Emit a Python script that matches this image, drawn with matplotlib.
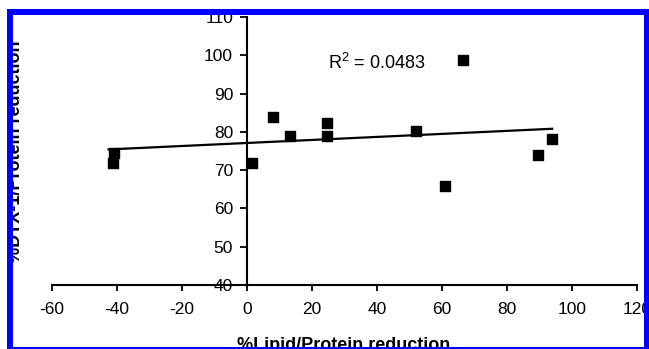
import matplotlib
matplotlib.use("Agg")
import matplotlib.pyplot as plt
from matplotlib.patches import Rectangle
import numpy as np

plt.rcParams['font.family'] = ['Liberation Sans', 'DejaVu Sans']
plt.rcParams['mathtext.fontset'] = 'custom'
plt.rcParams['mathtext.rm'] = 'Liberation Sans'
plt.rcParams['mathtext.it'] = 'Liberation Sans'
plt.rcParams['axes.unicode_minus'] = False

# data
lipid_reduction = [-40.8, -41.1, 1.4, 8.1, 13.2, 24.5, 24.5, 52.0, 61.0, 66.4, 89.6, 93.9]
dtx_reduction = [74.6, 71.9, 71.9, 83.8, 78.8, 82.3, 79.0, 80.1, 65.9, 98.7, 74.0, 78.1]
r2_label = "R$^{2}$ = 0.0483"
x_ticks = [-60, -40, -20, 0, 20, 40, 60, 80, 100, 120]
y_ticks = [40, 50, 60, 70, 80, 90, 100, 110]
x_title = "%Lipid/Protein reduction"
y_title = "%DTX-1/Protein reduction"

W, H = 649, 349
fig = plt.figure(figsize=(W / 100, H / 100), dpi=100)
fig.patch.set_facecolor('white')

ax = fig.add_axes([52 / W, (H - 285) / H, (637 - 52) / W, (285 - 17) / H])
ax.set_xlim(-60, 120)
ax.set_ylim(40, 110)
ax.patch.set_alpha(0)

for s in ['top', 'right']:
    ax.spines[s].set_visible(False)
ax.spines['left'].set_position(('data', 0))
ax.spines['left'].set_linewidth(1.5)
ax.spines['bottom'].set_linewidth(1.5)

ax.set_xticks(x_ticks)
ax.set_yticks(y_ticks)
ax.tick_params(axis='x', direction='out', length=4.5, width=1.3, pad=8, labelsize=12.5)
ax.tick_params(axis='y', direction='out', length=5, width=1.3, pad=5, labelsize=12.5)
for lab in ax.get_yticklabels() + ax.get_xticklabels():
    lab.set_clip_on(False)

xs = np.array(lipid_reduction)
ys = np.array(dtx_reduction)
ax.scatter(xs, ys, marker='s', s=52, color='black', zorder=3, clip_on=False)

coef = np.polyfit(xs, ys, 1)
xl = np.array([xs.min() - 1.5, xs.max()])
ax.plot(xl, np.polyval(coef, xl), color='black', lw=1.6, zorder=2)

ax.text(24.9, 96.3, r2_label, fontsize=13, ha='left', va='baseline')

fig.text(344 / W, 1 - 337 / H, x_title, fontsize=13, fontweight='bold',
         ha='center', va='top')
fig.text(24 / W, 1 - 152 / H, y_title, fontsize=13, fontweight='bold',
         rotation=90, ha='right', va='center')

blue = '#0000ff'
def rect_px(x0, y0, x1, y1):
    fig.patches.append(Rectangle((x0 / W, 1 - y1 / H), (x1 - x0) / W, (y1 - y0) / H,
                                 transform=fig.transFigure, facecolor=blue,
                                 edgecolor='none', zorder=10))
rect_px(7, 9, 13, 349)     # left
rect_px(7, 9, 649, 15)     # top
rect_px(644, 9, 649, 349)  # right
rect_px(7, 347, 649, 349)  # bottom
# white margins outside frame
fig.patches.append(Rectangle((0, 0), 7 / W, 1, transform=fig.transFigure,
                             facecolor='white', edgecolor='none', zorder=9))
fig.patches.append(Rectangle((0, 1 - 9 / H), 1, 9 / H, transform=fig.transFigure,
                             facecolor='white', edgecolor='none', zorder=9))

fig.savefig('out.png', dpi=100)
